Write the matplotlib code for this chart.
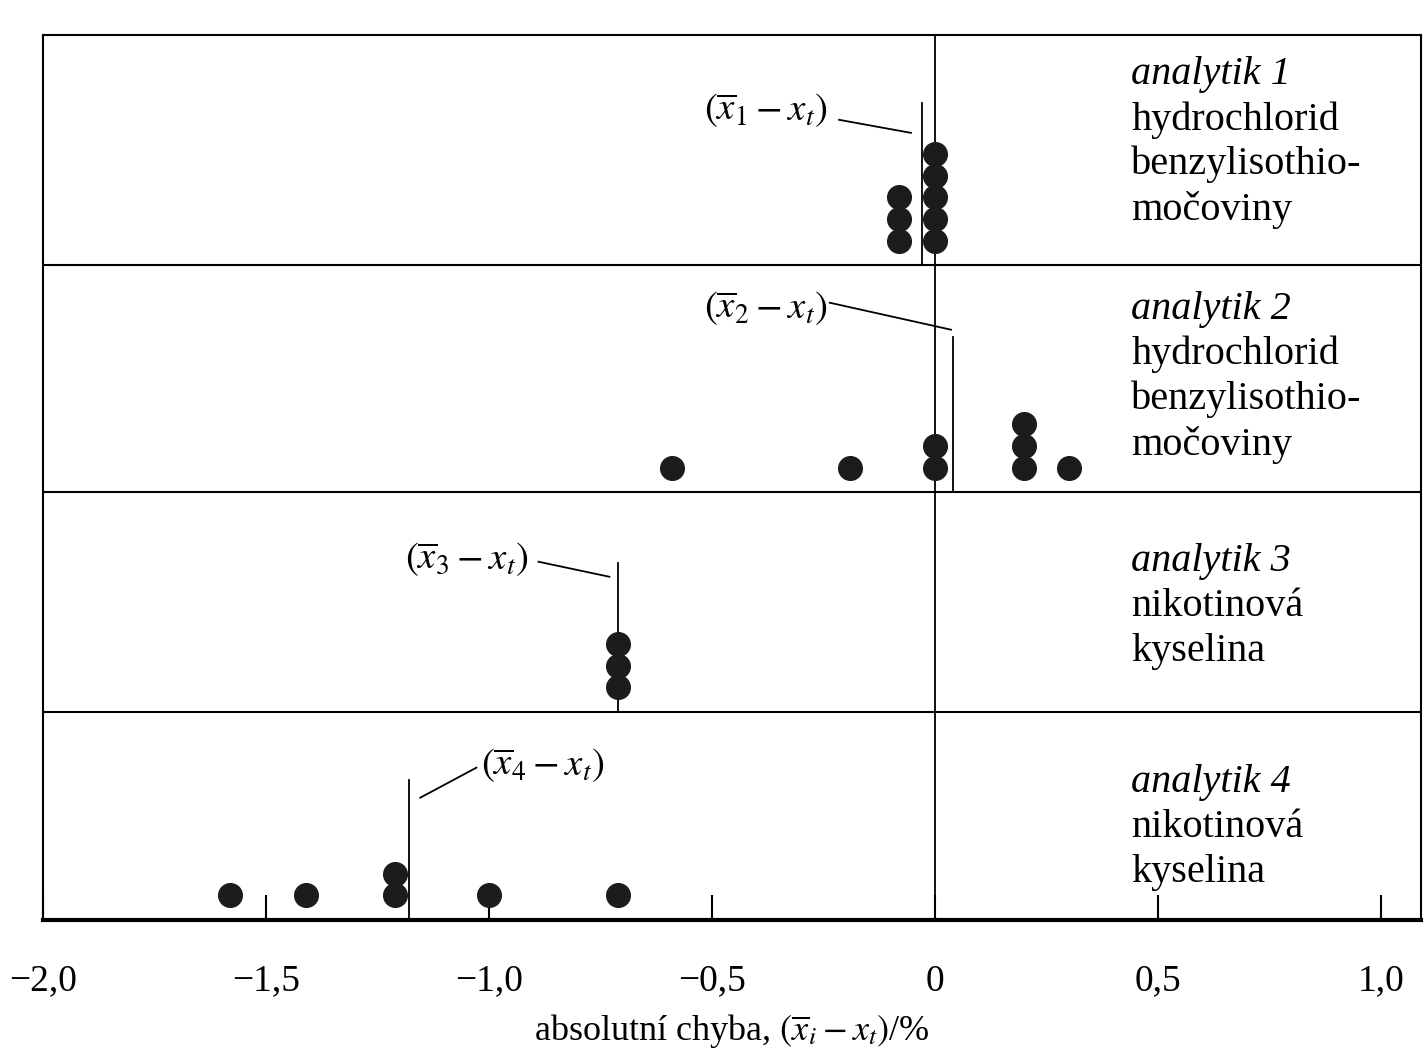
import matplotlib.pyplot as plt
import numpy as np

plt.rcParams['font.family'] = ['Liberation Serif', 'DejaVu Serif']
plt.rcParams['mathtext.fontset'] = 'stix'

# data: absolutni chyba jednotlivych stanoveni (%)
analytik1 = [-0.08, -0.08, -0.08, 0.0, 0.0, 0.0, 0.0, 0.0]
analytik2 = [-0.59, -0.19, 0.0, 0.0, 0.2, 0.2, 0.2, 0.3]
analytik3 = [-0.71, -0.71, -0.71]
analytik4 = [-1.58, -1.41, -1.21, -1.21, -1.0, -0.71]
prumery = [-0.03, 0.04, -0.71, -1.18]   # poloha svisle cary (x_i - x_t)

nazvy = [["analytik 1", "hydrochlorid", "benzylisothio-", "močoviny"],
         ["analytik 2", "hydrochlorid", "benzylisothio-", "močoviny"],
         ["analytik 3", "nikotinová", "kyselina"],
         ["analytik 4", "nikotinová", "kyselina"]]
tick_pos = [-2.0, -1.5, -1.0, -0.5, 0.0, 0.5, 1.0]
tick_lab = ["\u22122,0", "\u22121,5", "\u22121,0", "\u22120,5", "0", "0,5", "1,0"]

data = [analytik1, analytik2, analytik3, analytik4]

fig = plt.figure(figsize=(14.27, 10.57), dpi=100)
ax = fig.add_axes([0.03, 0.13, 0.966, 0.837])
ax.set_xlim(-2.0, 1.09)
ax.set_ylim(0, 4)

# spodni hrany panelu (analytik 1 nahore)
bases = [2.96, 1.934, 0.94, 0.0]

for i, vals in enumerate(data):
    base = bases[i]
    vals = np.array(vals)
    ys = np.zeros(len(vals))
    for j, v in enumerate(vals):
        k = np.sum(np.isclose(vals[:j], v))
        ys[j] = base + 0.11 + k * 0.098
    ax.scatter(vals, ys, s=290, color='#1c1c1c', zorder=3)

# hranice panelu
for yb in bases[:3]:
    ax.axhline(yb, color='k', lw=1.5)
ax.axvline(0, color='k', lw=1.3)

# prumery a popisky
tops = [0.73, 0.70, 0.67, 0.63]
lab_dx = [-0.35, -0.42, -0.34, 0.30]
lab_y = [0.70, 0.83, 0.69, 0.70]
lead = [(-0.185, 0.656, -0.024, 0.597),
        (-0.276, 0.855, -0.004, 0.733),
        (-0.179, 0.678, -0.02, 0.61),
        (0.152, 0.687, 0.026, 0.551)]
for i, m in enumerate(prumery):
    base = bases[i]
    ax.plot([m, m], [base, base + tops[i]], color='k', lw=1.3)
    ax.text(m + lab_dx[i], base + lab_y[i],
            r'$(\overline{x}_%d - x_t)$' % (i + 1),
            fontsize=28, ha='center', va='center')
    x0, y0, x1, y1 = lead[i]
    ax.plot([m + x0, m + x1], [base + y0, base + y1], color='k', lw=1.3)

# texty vpravo
text_top = [0.859, 0.823, 0.678, 0.619]
for i, lines in enumerate(nazvy):
    base = bases[i]
    for j, t in enumerate(lines):
        ax.text(0.44, base + text_top[i] - j * 0.203, t, fontsize=29,
                style='italic' if j == 0 else 'normal', va='center', ha='left')

ax.set_yticks([])
ax.set_xticks(tick_pos)
ax.set_xticklabels(tick_lab, fontsize=27)
ax.tick_params(axis='x', direction='in', length=18, width=1.5, pad=32)
for s in ax.spines.values():
    s.set_linewidth(1.5)
ax.spines['bottom'].set_linewidth(3)
ax.set_xlabel(r'absolutní chyba, $(\overline{x}_i - x_t)$/%', fontsize=26, labelpad=10)

fig.savefig('out.png', dpi=100)
